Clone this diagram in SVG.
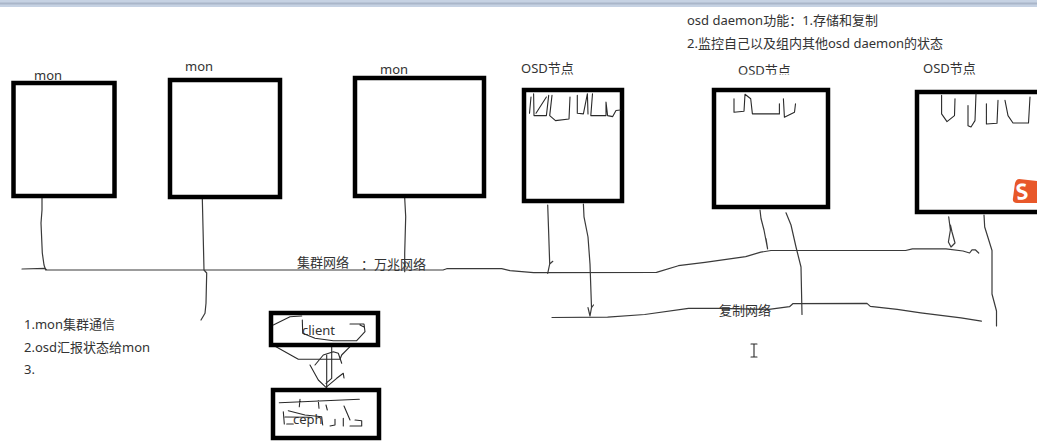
<svg xmlns="http://www.w3.org/2000/svg" width="1037" height="447" viewBox="0 0 1037 447">
<style>
.box{fill:#fff;stroke:#000;stroke-width:4.5}
.ink{fill:none;stroke:#2a2a2a;stroke-width:1.1;stroke-linejoin:round;stroke-linecap:round}
.wire{fill:none;stroke:#3a3a3a;stroke-width:1.2;stroke-linejoin:round;stroke-linecap:round}
text{font-family:"Noto Sans","Noto Sans CJK SC",sans-serif;font-size:13px;fill:#333}
</style>
<rect width="1037" height="447" fill="#fff"/>
<rect width="1037" height="7" fill="#c6d2e3"/>
<rect y="2.500" width="1037" height="2" fill="#aab6c9"/>
<g id="connectors">
<path class="wire" d="M22 269L45 268.300L46.700 270L443 270L446.700 268.700L501.700 268.700L510 270.700L533.600 272.700L656.500 272.400L678.400 265.700L705 262.300L745.700 256.600L760.800 252.200L771 250.500L905.600 250.500L912.400 248.800L946 248.800L963 251L969.600 253L972 249.800L975.300 249.800L978.700 253"/>
<path class="wire" d="M552 317.500L607.600 317.200L644.700 314.500L688.500 308.400L718.800 308.400L769 309.400L789.500 306.700L792.800 303.700L867 303.400L870.300 306.400L897.200 309.400L920.800 312.800L961 317.800L981.400 321.200"/>
<path class="wire" d="M42 198L42 210L41 223L42.300 253L44 265L45.700 270"/>
<path class="wire" d="M202.300 198L203.300 240L204 270L206.700 273L206 303.300L205 313.300L201 320"/>
<path class="wire" d="M404.700 198L405.700 216.700L404.700 253L404.700 271.700"/>
<path class="wire" d="M547.700 205L548.700 233.700L549.700 264L547.700 273.400M549.700 264L552.800 261.300"/>
<path class="wire" d="M583.400 204L584 216.800L588 237L590 264L591.500 307.700L590 316M588 307.700L590 316M591.500 307.700L593.500 305"/>
<path class="wire" d="M760 210L761 218.500L764 230L767.600 248.800M766 238.700L767.600 248.800"/>
<path class="wire" d="M786 212.800L791 225L796 247L801 267L802 314.500"/>
<path class="wire" d="M948.700 216.800L950.400 230L948.400 242L951 247L955 243L952 232L950.400 225"/>
<path class="wire" d="M984 215L984.700 227L992 250.500L992 294L996.500 311L996.500 326"/>
<path class="ink" d="M276 346.700L298.300 359.300L340 359.300L341.700 355L350 346.700"/>
<path class="ink" d="M331.700 346.700L331.700 378.300L326 383.300M326.700 355L326.700 388"/>
<path class="ink" d="M310 365L318.300 380L326 387.300L336.700 378.300L343.300 373.300L344 378"/>
<path class="ink" d="M315 365L323.300 355L333.300 351.700L338.300 353.300L341.700 363.300"/>
</g>
<g id="node-mon-1"><text x="34" y="79.500">mon</text><rect class="box" x="13.500" y="83" width="101" height="113"/></g>
<g id="node-mon-2"><text x="185" y="71">mon</text><rect class="box" x="170" y="80" width="110" height="117"/></g>
<g id="node-mon-3"><text x="380" y="74">mon</text><rect class="box" x="355" y="78" width="129" height="118"/></g>
<g id="node-osd-1"><rect class="box" x="524" y="90" width="98" height="111"/><text x="521" y="73">OSD节点</text>
<path class="ink" d="M529.500 113.200L531 97M533.600 93.700L534 115.600L546.400 115.600L548.700 95.400M546.400 97L536 113.200M552 95.400L549.700 115.600L555.500 120.600L569 119L570 97M577.300 95.400L577.300 113.200L583.400 113.900L587.400 93.700L588 113.900M592.500 93.700L590.800 115.600L606 115.600L606 102L607.600 115.600L612.700 116.600L616 110.500L620.400 110"/></g>
<g id="node-osd-2"><rect class="box" x="714" y="90" width="114" height="117"/><text x="738" y="75">OSD节点</text><rect x="735" y="74.600" width="60" height="6" fill="#fff"/>
<path class="ink" d="M734 98.700L734 112.200L744 111.200L745 94.300L750.700 98.700L752.400 113.900L779.400 113.900L779.400 103.800M783.400 98.700L784.400 117.200L794.500 112.200L795.500 103.800"/></g>
<g id="node-osd-3"><rect class="box" x="917" y="92" width="130" height="120"/><text x="923" y="73">OSD节点</text>
<path class="ink" d="M941.600 95.400L941.600 113.900L947 121.600L954.500 115.600L955 98.700M968 105.500L968 125.700L971 127L975 120.600L976 93.700M986.400 103.800L986.400 124L997 123.300L998 100.400M1005 100.400L1008 115.600L1013 123L1028.500 123L1030 97"/>
<path d="M1019 179L1037 181L1037 203L1017 203Q1012 203 1013 198L1015 183Q1016 179 1019 179Z" fill="#e8582a"/><text x="1016" y="199" transform="rotate(-8 1025 192)" style="font-size:22px;font-weight:700;fill:#fff">S</text></g>
<g id="node-client"><rect class="box" x="271" y="313" width="107" height="32"/><text x="302" y="335">client</text>
<path class="ink" d="M273.300 325L290 316.700L301.700 316M302.300 320L302.700 333.300L315 338.300L333.300 340.700L356.700 340.700L365 331.700L364 324L350 324M360 325L364 327"/></g>
<g id="node-ceph"><rect class="box" x="273" y="390" width="106" height="48"/><text x="293" y="424">ceph</text>
<path class="ink" d="M279.300 402.700L359.300 399.300M300 399.300L299.300 406.700M318.300 400.700L319 408.300M326 405L327.300 410M344 406L350 420M283.300 411.700L284.300 424M288.300 410.700L305 415L321.700 416.700L322.700 425M285 417L310 417.300M286.700 424L293.300 424M335 419.300L335 425L330 426M343.300 418.300L343.300 426M350 426L361.700 426L361.700 420.700L355 420"/></g>
<g id="labels">
<text x="297" y="267">集群网络</text>
<text x="361" y="269">：万兆网络</text>
<text x="719" y="315">复制网络</text>
<text x="24" y="329">1.mon集群通信</text>
<text x="24" y="352">2.osd汇报状态给mon</text>
<text x="24" y="374">3.</text>
<text x="687" y="25">osd daemon功能：1.存储和复制</text>
<text x="687" y="48">2.监控自己以及组内其他osd daemon的状态</text>
</g>
<path class="ink" d="M751 344L757 344M754 344L754 357M751 357L757 357"/>
</svg>
